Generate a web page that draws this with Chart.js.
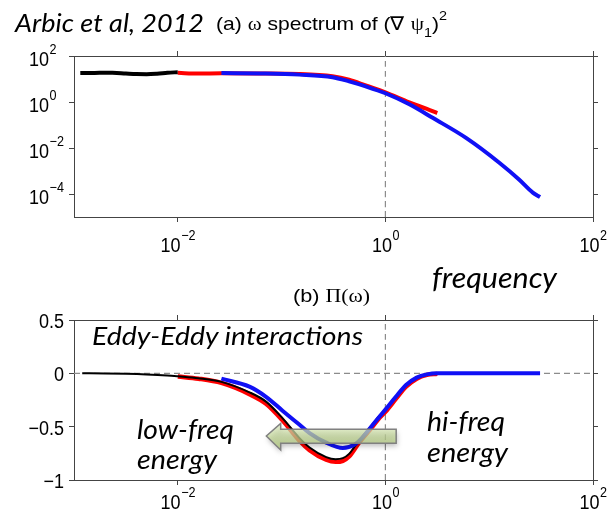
<!DOCTYPE html>
<html>
<head>
<meta charset="utf-8">
<script src="https://cdn.jsdelivr.net/npm/chart.js@4.4.1/dist/chart.umd.min.js"></script>
<style>
html, body { margin: 0; padding: 0; background: #fff; }
#wrap { position: relative; width: 610px; height: 516px; overflow: hidden; }
canvas { position: absolute; left: 0; top: 0; }
.t { position: absolute; white-space: nowrap; line-height: 1; transform-origin: 0 0; color: #000; }
.cal { font-family: Lato, "Open Sans", sans-serif; font-style: italic; }
.hel { font-family: "Liberation Sans", Arial, sans-serif; }
.ser { font-family: "Liberation Serif", "Times New Roman", serif; }
.bm { display: inline-block; width: 0; height: 0; vertical-align: baseline; }
</style>
</head>
<body>
<div id="wrap">
  <canvas id="c1" width="610" height="516"></canvas>
  <canvas id="c2" width="610" height="516"></canvas>

  <div class="t cal" data-x="15" data-b="31.5" data-w="189" style="font-size:25px">Arbic et al, 2012</div>
  <div class="t hel" data-x="216" data-b="30" data-w="231" style="font-size:19px">(a) <span class="ser">ω</span> spectrum of (∇ <span class="ser">ψ</span><span style="font-size:13px;vertical-align:-7px">1</span>)<span style="font-size:13px;vertical-align:10px">2</span></div>
  <div class="t cal" data-x="432" data-b="288" data-w="125" style="font-size:28px">frequency</div>
  <div class="t hel" data-x="293" data-b="302" data-w="77" style="font-size:18px">(b) <span class="ser">Π(ω)</span></div>
  <div class="t cal" data-x="92" data-b="345" data-w="271" style="font-size:26px">Eddy-Eddy interactions</div>
  <div class="t cal" data-x="137" data-b="439" data-w="97" style="font-size:27px">low-freq</div>
  <div class="t cal" data-x="137" data-b="469" data-w="80" style="font-size:27px">energy</div>
  <div class="t cal" data-x="427" data-b="431" data-w="78" style="font-size:27px">hi-freq</div>
  <div class="t cal" data-x="427" data-b="462" data-w="81" style="font-size:27px">energy</div>
</div>

<script>
// axis limits and ticks
const xMin = 0.001, xMax = 100;
const xTicks = [0.01, 1, 100];
const xTickExp = ["\u22122", "0", "2"];
const yMinA = 1e-5, yMaxA = 100;
const yTicksA = [1e-4, 1e-2, 1, 100];
const yTickExpA = ["\u22124", "\u22122", "0", "2"];
const yMinB = -1, yMaxB = 0.5;
const yTicksB = [-1, -0.5, 0, 0.5];
const yTickLabelsB = ["\u22121", "\u22120.5", "0", "0.5"];
const refFreq = 1;   // dashed vertical line
const refPi = 0;     // dashed horizontal line (panel b)

// (a) omega spectrum
const freqBlackA = [0.00115, 0.00158, 0.00234, 0.00316, 0.00398, 0.00501, 0.00631, 0.00794, 0.01];
const specBlackA = [18.2, 18.4, 18.6, 17.2, 16.3, 16.2, 17.0, 18.6, 19.8];
const freqRedA = [0.01, 0.0158, 0.0263, 0.0631, 0.148, 0.309, 0.447, 0.646, 1, 1.7, 2.51, 3.16];
const specRedA = [18.5, 17.2, 17.8, 17.4, 16.6, 13.2, 9.3, 5.25, 2.63, 0.955, 0.5, 0.33];
const freqBlueA = [0.0263, 0.0631, 0.148, 0.309, 0.447, 0.646, 1, 1.7, 2.88, 6.03, 12.6, 19.5, 26.3, 30.9];
const specBlueA = [18.2, 17.4, 15.5, 12.0, 7.9, 4.79, 2.4, 0.794, 0.2, 0.0269, 0.00224, 0.000417, 0.000115, 0.000074];

// (b) Pi(omega)
const freqBlackB = [0.0012, 0.002, 0.00316, 0.005, 0.0079, 0.01, 0.0158, 0.0263, 0.049, 0.0708, 0.102, 0.148, 0.186, 0.269, 0.331, 0.389, 0.447, 0.562, 0.708, 0.891, 1, 1.26, 1.58, 2.0, 2.51, 3.16];
const piBlackB = [0, -0.001, -0.004, -0.01, -0.02, -0.028, -0.046, -0.08, -0.178, -0.265, -0.42, -0.605, -0.695, -0.785, -0.805, -0.795, -0.755, -0.625, -0.51, -0.39, -0.34, -0.225, -0.115, -0.045, -0.013, -0.004];
const freqRedB = [0.01, 0.0158, 0.0263, 0.049, 0.0708, 0.102, 0.148, 0.186, 0.269, 0.331, 0.389, 0.447, 0.562, 0.708, 0.891, 1, 1.26, 1.58, 2.0, 2.51, 3.16];
const piRedB = [-0.03, -0.05, -0.09, -0.195, -0.285, -0.44, -0.63, -0.72, -0.81, -0.83, -0.82, -0.78, -0.645, -0.53, -0.41, -0.36, -0.24, -0.125, -0.05, -0.015, -0.005];
const freqBlueB = [0.0263, 0.049, 0.0708, 0.102, 0.148, 0.186, 0.269, 0.389, 0.501, 0.603, 0.759, 1, 1.26, 1.58, 2.0, 2.51, 3.16, 10, 30.9];
const piBlueB = [-0.05, -0.125, -0.22, -0.35, -0.48, -0.56, -0.65, -0.70, -0.67, -0.60, -0.48, -0.34, -0.22, -0.11, -0.04, -0.01, 0, 0, 0];

// green arrow (data units of panel b)
const arrowTail = 1.27, arrowHeadBase = 0.098, arrowTip = 0.0713;
const arrowBodyTop = -0.525, arrowBodyBot = -0.656, arrowTipY = -0.588;
const arrowHeadTop = -0.469, arrowHeadBot = -0.719;

const RED = "#ff0000", BLUE = "#1010f5", DASH = "#8c8c8c", AXIS = "#444";
const SX = 0.9;

function pts(xs, ys) {
    return xs.map((x, i) => ({ x: x, y: ys[i] }));
}

function axis(type, pos, min, max, ticks) {
    return {
        type: type, position: pos, min: min, max: max, bounds: "data",
        afterBuildTicks: s => { s.ticks = ticks.map(v => ({ value: v })); },
        afterFit: s => { if (s.isHorizontal()) s.height = 0; else s.width = 0; },
        ticks: { display: false },
        grid: { drawOnChartArea: false, drawTicks: true, tickLength: 5, color: AXIS, lineWidth: 1 },
        border: { display: true, color: AXIS, width: 1 }
    };
}

function txt(ctx, s, x, y, size) {
    ctx.save();
    ctx.font = size + 'px "Liberation Sans", Arial, sans-serif';
    ctx.translate(x, y);
    ctx.scale(SX, 1);
    ctx.fillText(s, 0, 0);
    ctx.restore();
}

function tw(ctx, s, size) {
    ctx.font = size + 'px "Liberation Sans", Arial, sans-serif';
    return ctx.measureText(s).width * SX;
}

function drawPow(ctx, x, y, exp, center) {
    const wb = tw(ctx, "10", 20), we = tw(ctx, exp, 14);
    const left = center ? x - (wb + we) / 2 : x;
    txt(ctx, "10", left, y, 20);
    txt(ctx, exp, left + wb + 0.5, y - 12, 14);
}

// tick labels: 10 with a raised exponent
const tickLabels = {
    id: "tickLabels",
    afterDraw(chart, args, o) {
        const ctx = chart.ctx;
        ctx.save();
        ctx.fillStyle = "#000";
        ctx.textBaseline = "alphabetic";
        const sx = chart.scales.x, sy = chart.scales.y;
        xTicks.forEach((v, i) => drawPow(ctx, sx.getPixelForValue(v), o.xBase, xTickExp[i], true));
        if (o.logY) {
            yTicksA.forEach((v, i) => drawPow(ctx, 29, sy.getPixelForValue(v) + 9.5, yTickExpA[i], false));
        } else {
            yTicksB.forEach((v, i) => {
                const s = yTickLabelsB[i];
                txt(ctx, s, 64 - tw(ctx, s, 20), sy.getPixelForValue(v) + 8, 20);
            });
        }
        ctx.restore();
    }
};

const arrowPlugin = {
    id: "arrow",
    afterDatasetsDraw(chart) {
        const sx = chart.scales.x, sy = chart.scales.y, ctx = chart.ctx;
        const P = (a, b) => [sx.getPixelForValue(a), sy.getPixelForValue(b)];
        const path = [
            P(arrowTail, arrowBodyTop), P(arrowHeadBase, arrowBodyTop), P(arrowHeadBase, arrowHeadTop),
            P(arrowTip, arrowTipY), P(arrowHeadBase, arrowHeadBot), P(arrowHeadBase, arrowBodyBot),
            P(arrowTail, arrowBodyBot)
        ];
        ctx.save();
        ctx.beginPath();
        path.forEach((p, i) => i ? ctx.lineTo(p[0], p[1]) : ctx.moveTo(p[0], p[1]));
        ctx.closePath();
        const top = sy.getPixelForValue(arrowHeadTop), bot = sy.getPixelForValue(arrowHeadBot);
        const g = ctx.createLinearGradient(0, top, 0, bot);
        g.addColorStop(0, "rgba(222,235,195,0.72)");
        g.addColorStop(1, "rgba(170,198,110,0.72)");
        ctx.fillStyle = g;
        ctx.shadowColor = "rgba(0,0,0,0.35)";
        ctx.shadowBlur = 5;
        ctx.shadowOffsetX = 1;
        ctx.shadowOffsetY = 3;
        ctx.fill();
        ctx.shadowColor = "transparent";
        ctx.strokeStyle = "#808080";
        ctx.lineWidth = 1.5;
        ctx.stroke();
        ctx.restore();
    }
};

function baseOptions(pad, scales, tl) {
    return {
        responsive: false, animation: false, devicePixelRatio: 1,
        layout: { padding: pad },
        elements: { point: { radius: 0 }, line: { cubicInterpolationMode: "monotone", fill: false } },
        plugins: { legend: { display: false }, tooltip: { enabled: false }, tickLabels: tl },
        scales: scales
    };
}

new Chart(document.getElementById("c1"), {
    type: "line",
    data: {
        datasets: [
            { data: pts(freqBlueA, specBlueA), borderColor: BLUE, borderWidth: 4 },
            { data: pts(freqRedA, specRedA), borderColor: RED, borderWidth: 4 },
            { data: pts(freqBlackA, specBlackA), borderColor: "#000", borderWidth: 4 },
            { data: [{ x: refFreq, y: yMinA }, { x: refFreq, y: yMaxA }], borderColor: DASH, borderWidth: 1.2, borderDash: [6, 4] }
        ]
    },
    options: baseOptions({ left: 74, top: 56, right: 17, bottom: 299 }, {
        x: axis("logarithmic", "bottom", xMin, xMax, xTicks),
        x2: axis("logarithmic", "top", xMin, xMax, xTicks),
        y: axis("logarithmic", "left", yMinA, yMaxA, yTicksA),
        y2: axis("logarithmic", "right", yMinA, yMaxA, yTicksA)
    }, { xBase: 252, logY: true }),
    plugins: [tickLabels]
});

new Chart(document.getElementById("c2"), {
    type: "line",
    data: {
        datasets: [
            { data: pts(freqBlueB, piBlueB), borderColor: BLUE, borderWidth: 4 },
            { data: pts(freqBlackB, piBlackB), borderColor: "#000", borderWidth: 2 },
            { data: pts(freqRedB, piRedB), borderColor: RED, borderWidth: 4.5 },
            { data: [{ x: refFreq, y: yMinB }, { x: refFreq, y: yMaxB }], borderColor: DASH, borderWidth: 1.2, borderDash: [6, 4] },
            { data: [{ x: xMin, y: refPi }, { x: xMax, y: refPi }], borderColor: DASH, borderWidth: 1.2, borderDash: [6, 4] }
        ]
    },
    options: baseOptions({ left: 74, top: 320, right: 17, bottom: 36 }, {
        x: axis("logarithmic", "bottom", xMin, xMax, xTicks),
        x2: axis("logarithmic", "top", xMin, xMax, xTicks),
        y: axis("linear", "left", yMinB, yMaxB, yTicksB),
        y2: axis("linear", "right", yMinB, yMaxB, yTicksB)
    }, { xBase: 509, logY: false }),
    plugins: [tickLabels, arrowPlugin]
});

function placeText() {
    document.querySelectorAll(".t").forEach(el => {
        el.style.transform = "none";
        let m = el.querySelector(".bm");
        if (!m) {
            m = document.createElement("span");
            m.className = "bm";
            el.appendChild(m);
        }
        el.style.left = el.dataset.x + "px";
        el.style.top = (parseFloat(el.dataset.b) - m.offsetTop) + "px";
        const w = el.getBoundingClientRect().width;
        el.style.transform = "scaleX(" + (parseFloat(el.dataset.w) / w) + ")";
    });
}
placeText();
if (document.fonts) document.fonts.ready.then(placeText);
</script>
</body>
</html>
